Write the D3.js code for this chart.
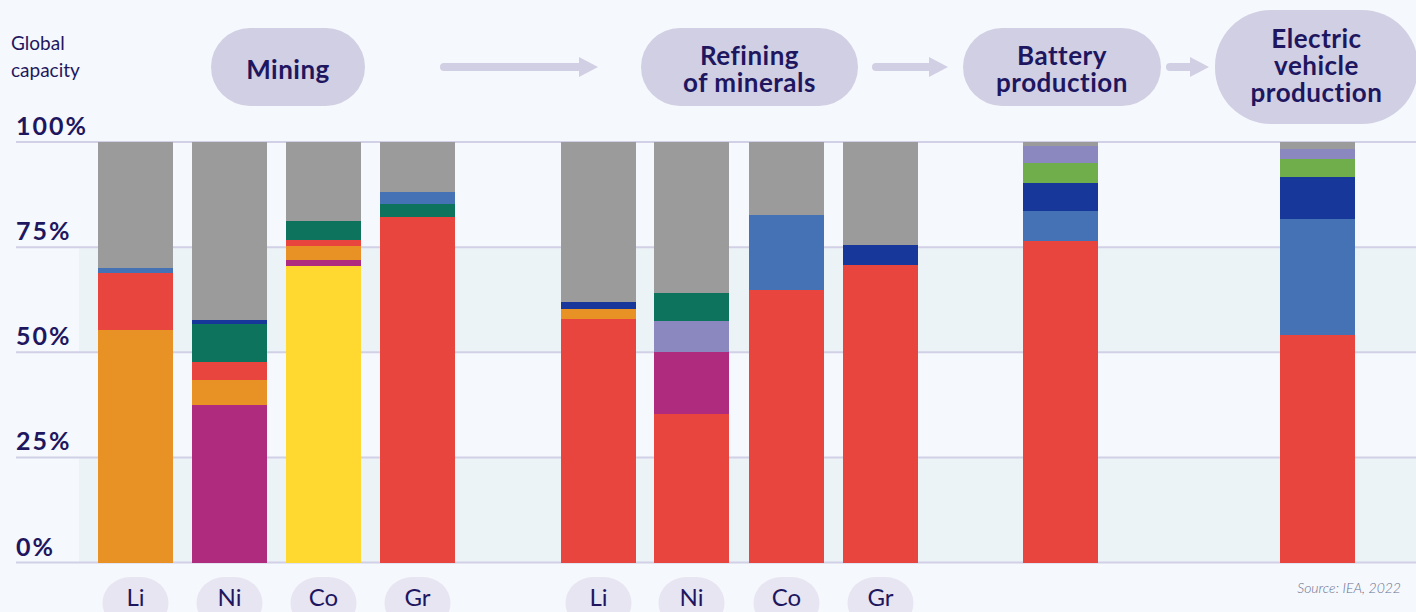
<!DOCTYPE html>
<html>
<head>
<meta charset="utf-8">
<script src="https://cdn.jsdelivr.net/npm/d3@7"></script>
<style>
  body { margin: 0; background: #f5f8fc; }
  svg { display: block; font-family: Lato, "Open Sans", sans-serif; }
</style>
</head>
<body>
<svg id="chart" width="1416" height="612"></svg>
<script>
// ---- data ----
const barIds = ['mLi', 'mNi', 'mCo', 'mGr', 'rLi', 'rNi', 'rCo', 'rGr', 'bat', 'ev'];
const barLabels = ['Li', 'Ni', 'Co', 'Gr', 'Li', 'Ni', 'Co', 'Gr', '', ''];

// segment keys per bar, bottom to top
const segmentKeys = [
  ['orange', 'red', 'blue', 'grey'],
  ['magenta', 'orange', 'red', 'teal', 'navy', 'grey'],
  ['yellow', 'magenta', 'orange', 'red', 'teal', 'grey'],
  ['red', 'teal', 'blue', 'grey'],
  ['red', 'orange', 'navy', 'grey'],
  ['red', 'magenta', 'lavender', 'teal', 'grey'],
  ['red', 'blue', 'grey'],
  ['red', 'navy', 'grey'],
  ['red', 'blue', 'navy', 'green', 'lavender', 'grey'],
  ['red', 'blue', 'navy', 'green', 'lavender', 'grey']
];
// share of global capacity (%), same order as segmentKeys
const segmentValues = [
  [55.3, 13.5, 1.2, 30.0],
  [37.5, 5.9, 4.3, 9.0, 1.0, 42.3],
  [70.5, 1.4, 3.4, 1.4, 4.5, 18.8],
  [82.2, 3.1, 2.8, 11.9],
  [57.9, 2.4, 1.6, 38.1],
  [35.3, 14.8, 7.3, 6.7, 35.9],
  [64.9, 17.7, 17.4],
  [70.7, 4.8, 24.5],
  [76.4, 7.2, 6.6, 4.8, 4.1, 0.9],
  [54.1, 27.6, 10.0, 4.2, 2.4, 1.7]
];

const seriesKeys = ['red', 'orange', 'magenta', 'yellow', 'teal', 'blue', 'navy', 'lavender', 'green', 'grey'];
const seriesColors = ['#e8453f', '#e89225', '#ae2b7d', '#ffd830', '#0e735d', '#4472b4', '#17379a', '#8b88c0', '#6fae4b', '#9b9b9b'];

const yTicks = [0, 25, 50, 75, 100];

const stageLines = [['Mining'], ['Refining', 'of minerals'], ['Battery', 'production'], ['Electric', 'vehicle', 'production']];

// ---- layout ----
const ink = '#1e1760';
const pillFill = '#d1cfe4';
const svg = d3.select('#chart');

const barLeft = [98, 192, 286, 380, 561, 654, 749, 843, 1023, 1280];
const barW = 75;
const x = d3.scaleOrdinal(barIds, barLeft);
const y = d3.scaleLinear().domain([0, 100]).range([562.5, 142]);
const color = d3.scaleOrdinal(seriesKeys, seriesColors);

svg.append('rect').attr('width', 1416).attr('height', 612).attr('fill', '#f5f8fc');

// alternating bands
svg.append('g')
  .selectAll('rect')
  .data([[50, 75], [0, 25]])
  .join('rect')
  .attr('x', 79)
  .attr('width', 1416 - 79)
  .attr('y', d => y(d[1]))
  .attr('height', d => y(d[0]) - y(d[1]))
  .attr('fill', '#ecf3f7');

// gridlines + tick labels
const grid = svg.append('g');
grid.selectAll('line')
  .data(yTicks)
  .join('line')
  .attr('x1', 16).attr('x2', 1416)
  .attr('y1', d => y(d)).attr('y2', d => y(d))
  .attr('stroke', '#d2d0e6')
  .attr('stroke-width', 2);
grid.selectAll('text')
  .data(yTicks)
  .join('text')
  .attr('x', 16)
  .attr('y', d => y(d) - 7)
  .attr('fill', ink)
  .style('font-size', '25px')
  .style('font-weight', 700)
  .style('letter-spacing', '2px')
  .text(d => d + '%');

// stacked bars
const segs = barIds.flatMap((id, i) => {
  const ends = d3.cumsum(segmentValues[i]);
  return segmentKeys[i].map((k, j) => ({id, key: k, y0: ends[j] - segmentValues[i][j], y1: ends[j]}));
});
svg.append('g')
  .selectAll('rect')
  .data(segs)
  .join('rect')
  .attr('x', d => x(d.id))
  .attr('width', barW)
  .attr('y', d => y(Math.min(d.y1, 100)))
  .attr('height', d => y(d.y0) - y(Math.min(d.y1, 100)))
  .attr('fill', d => color(d.key))
  .attr('shape-rendering', 'crispEdges');

// element labels under bars
const lab = svg.append('g')
  .selectAll('g')
  .data(barIds.filter((d, i) => barLabels[i]))
  .join('g')
  .attr('transform', d => `translate(${x(d) + barW / 2},0)`);
lab.append('rect')
  .attr('x', -33).attr('y', 577)
  .attr('width', 66).attr('height', 52)
  .attr('rx', 28)
  .attr('fill', '#e8e5f2');
lab.append('text')
  .attr('y', 606)
  .attr('text-anchor', 'middle')
  .attr('fill', ink)
  .style('font-size', '24px')
  .text(d => barLabels[barIds.indexOf(d)]);

// header
svg.append('text')
  .attr('x', 11)
  .attr('fill', ink)
  .style('font-size', '19px')
  .selectAll('tspan')
  .data(['Global', 'capacity'])
  .join('tspan')
  .attr('x', 11)
  .attr('y', (d, i) => 50 + i * 27)
  .text(d => d);

const pills = [
  {x: 211, y: 28, w: 154, h: 78, base: 79},
  {x: 641, y: 28, w: 217, h: 78, base: 65},
  {x: 963, y: 28, w: 198, h: 78, base: 65},
  {x: 1215, y: 10, w: 203, h: 114, base: 48}
];
const pg = svg.append('g')
  .selectAll('g')
  .data(pills)
  .join('g');
pg.append('rect')
  .attr('x', d => d.x).attr('y', d => d.y)
  .attr('width', d => d.w).attr('height', d => d.h)
  .attr('rx', d => Math.min(d.h / 2, 56))
  .attr('fill', pillFill);
pg.each(function (d, i) {
  d3.select(this).selectAll('text')
    .data(stageLines[i])
    .join('text')
    .attr('x', d.x + d.w / 2)
    .attr('y', (t, j) => d.base + j * 27)
    .attr('text-anchor', 'middle')
    .attr('fill', ink)
    .style('font-size', '26px')
    .style('font-weight', 700)
    .style('letter-spacing', '0.5px')
    .text(t => t);
});

// arrows
const arrows = [[440, 598], [872, 948], [1166, 1209]];
const ag = svg.append('g').selectAll('g').data(arrows).join('g');
ag.append('line')
  .attr('x1', d => d[0] + 4).attr('x2', d => d[1] - 18)
  .attr('y1', 67).attr('y2', 67)
  .attr('stroke', pillFill)
  .attr('stroke-width', 8)
  .attr('stroke-linecap', 'round');
ag.append('path')
  .attr('d', d => `M${d[1] - 19},57 L${d[1]},67 L${d[1] - 19},77 Z`)
  .attr('fill', pillFill);

// source
svg.append('text')
  .attr('x', 1401).attr('y', 593)
  .attr('text-anchor', 'end')
  .attr('fill', '#6b7090')
  .style('font-size', '14px')
  .style('font-style', 'italic')
  .style('font-weight', 300)
  .text('Source: IEA, 2022');
</script>
</body>
</html>
